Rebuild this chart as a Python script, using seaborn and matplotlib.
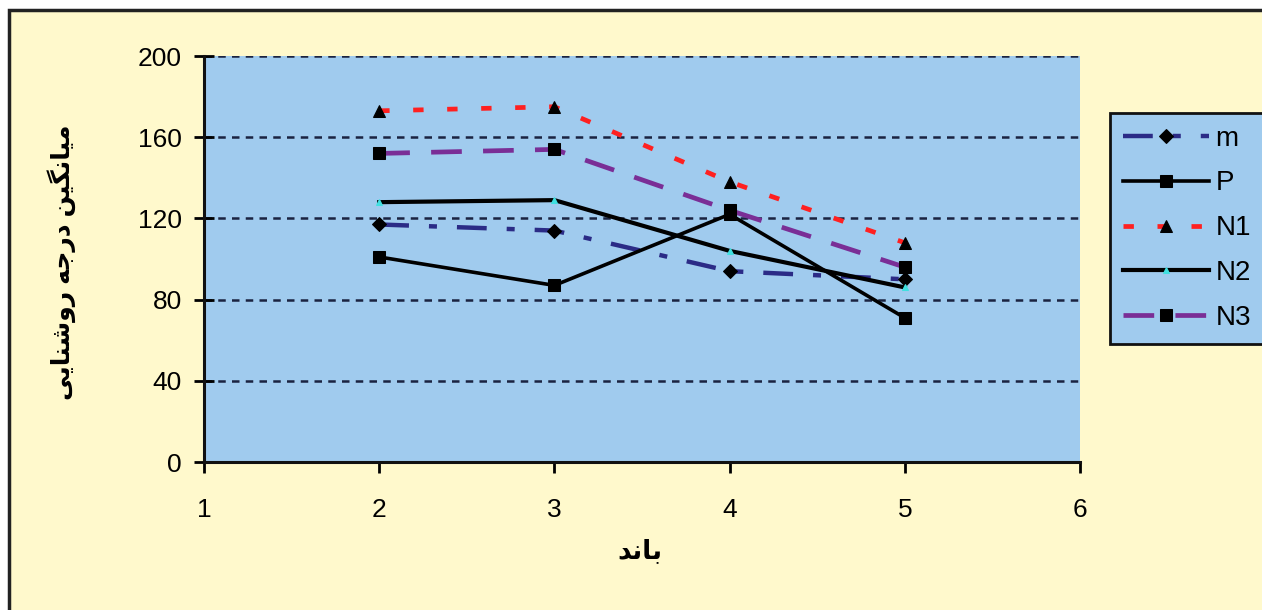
import matplotlib
matplotlib.use("Agg")
import matplotlib.pyplot as plt
from matplotlib.patches import Rectangle
import seaborn as sns
import pandas as pd

# ---------------- data ----------------
bands = [2, 3, 4, 5]
m_vals = [117, 114, 94, 90]
p_vals = [101, 87, 122, 71]
n1_vals = [173, 175, 138, 108]
n2_vals = [128, 129, 104, 86]
n3_vals = [152, 154, 124, 96]
series_names = ["m", "P", "N1", "N2", "N3"]
x_ticks = [1, 2, 3, 4, 5, 6]
y_ticks = [0, 40, 80, 120, 160, 200]
x_label_fa = "باند"
y_label_fa = "میانگین درجه روشنایی"

# ------------- minimal Persian shaping (presentation forms, visual order) -------------
FORMS = {  # isolated, final, initial, medial
    "ب": ("\uFE8F", "\uFE90", "\uFE91", "\uFE92"),
    "ا": ("\uFE8D", "\uFE8E", None, None),
    "ن": ("\uFEE5", "\uFEE6", "\uFEE7", "\uFEE8"),
    "د": ("\uFEA9", "\uFEAA", None, None),
    "م": ("\uFEE1", "\uFEE2", "\uFEE3", "\uFEE4"),
    "ی": ("\uFBFC", "\uFBFD", "\uFBFE", "\uFBFF"),
    "گ": ("\uFB92", "\uFB93", "\uFB94", "\uFB95"),
    "ر": ("\uFEAD", "\uFEAE", None, None),
    "ج": ("\uFE9D", "\uFE9E", "\uFE9F", "\uFEA0"),
    "ه": ("\uFEE9", "\uFEEA", "\uFEEB", "\uFEEC"),
    "و": ("\uFEED", "\uFEEE", None, None),
    "ش": ("\uFEB5", "\uFEB6", "\uFEB7", "\uFEB8"),
}


def shape(text):
    out = []
    for i, ch in enumerate(text):
        if ch not in FORMS:
            out.append(ch)
            continue
        prev = text[i - 1] if i > 0 else None
        nxt = text[i + 1] if i + 1 < len(text) else None
        dual = FORMS[ch][2] is not None
        jp = prev in FORMS and FORMS[prev][2] is not None
        jn = dual and nxt in FORMS
        if jp and jn:
            f = FORMS[ch][3]
        elif jp:
            f = FORMS[ch][1]
        elif jn:
            f = FORMS[ch][2]
        else:
            f = FORMS[ch][0]
        out.append(f)
    return "".join(out)[::-1]


plt.rcParams["font.family"] = ["Liberation Sans", "DejaVu Sans"]

W, H = 1262, 610
fig = plt.figure(figsize=(W / 100, H / 100), dpi=100, facecolor="white")

cream = "#FFF9CC"
blue = "#A0CBEE"

# outer chart frame
fig.patches.append(Rectangle((9 / W, -0.05), 1.1, 1 - 10 / H + 0.05,
                             transform=fig.transFigure, facecolor=cream,
                             edgecolor="#222222", linewidth=2.5, zorder=-10))

ax = fig.add_axes([204 / W, 1 - 462 / H, (1080 - 204) / W, (462 - 56) / H])
ax.set_facecolor(blue)
ax.set_zorder(1)

df = pd.DataFrame({"band": bands, "m": m_vals, "P": p_vals,
                   "N1": n1_vals, "N2": n2_vals, "N3": n3_vals})

styles = {
    "m": dict(color="#2B2B86", linestyle=(0, (6.7, 4.5, 1.8, 4.5)), linewidth=3.2,
              marker="D", markersize=7, markerfacecolor="black", markeredgecolor="black"),
    "P": dict(color="black", linestyle="-", linewidth=2.6,
              marker="s", markersize=9, markerfacecolor="black", markeredgecolor="black"),
    "N1": dict(color="#FF2020", linestyle=(0, (2.2, 5)), linewidth=3.4,
               marker="^", markersize=8, markerfacecolor="black", markeredgecolor="black"),
    "N2": dict(color="black", linestyle="-", linewidth=3.0,
               marker="^", markersize=4, markerfacecolor="#40E0E0", markeredgecolor="#40E0E0"),
    "N3": dict(color="#7A2E96", linestyle=(0, (6.5, 4.5)), linewidth=3.4,
               marker="s", markersize=9, markerfacecolor="black", markeredgecolor="black"),
}

for name in series_names:
    sns.lineplot(data=df, x="band", y=name, ax=ax, label=name, **styles[name])

ax.set_xlim(x_ticks[0], x_ticks[-1])
ax.set_ylim(y_ticks[0], y_ticks[-1])
ax.set_xticks(x_ticks)
ax.set_yticks(y_ticks)
ax.tick_params(axis="y", direction="inout", length=14, width=2, pad=9,
               labelsize=19, colors="black")
ax.tick_params(axis="x", direction="out", length=8, width=2, pad=18,
               labelsize=19, colors="black")

for y in y_ticks[1:]:
    ax.axhline(y, color="#1A2340", linestyle=(0, (3, 2.5)), linewidth=1.8, zorder=0.5)

for s in ["top", "right"]:
    ax.spines[s].set_visible(False)
for s in ["left", "bottom"]:
    ax.spines[s].set_color("#111111")
    ax.spines[s].set_linewidth(2.2)

ax.set_xlabel("")
ax.set_ylabel("")
ax.get_legend().remove()

fig.text(640 / W, 1 - 551 / H, shape(x_label_fa), ha="center", va="center",
         fontsize=19, fontweight="bold", color="black")
fig.text(62 / W, 1 - 262 / H, " ".join(shape(w) for w in y_label_fa.split(" ")[::-1]),
         ha="center", va="center", rotation=90, fontsize=18, fontweight="bold",
         color="black")

handles, labels = ax.get_legend_handles_labels()
leg = fig.legend(handles, labels, loc="upper left",
                 bbox_to_anchor=(1110 / W, 1 - 113 / H), frameon=True,
                 fontsize=20, handlelength=3.1, handletextpad=0.25,
                 labelspacing=0.68, borderpad=0.45, borderaxespad=0,
                 fancybox=False)
leg.get_frame().set_facecolor(blue)
leg.get_frame().set_edgecolor("#111111")
leg.get_frame().set_linewidth(2)
leg.get_frame().set_alpha(1)
leg.set_zorder(5)

fig.savefig("out.png", dpi=100, facecolor="white")
